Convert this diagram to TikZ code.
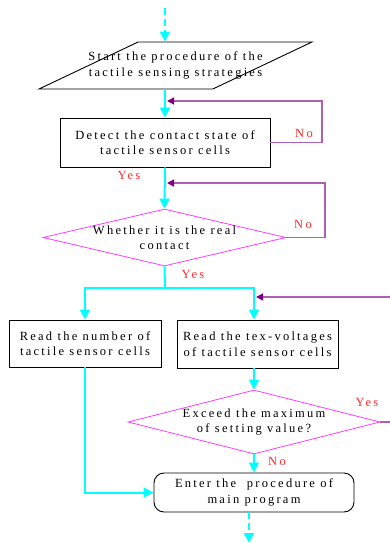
\documentclass[tikz,border=0pt]{standalone}
\usepackage{fontspec}
\setmainfont{Liberation Serif}[LetterSpace=18]
\usetikzlibrary{shapes.geometric,arrows.meta,positioning}

\definecolor{flowcyan}{RGB}{0,255,255}
\definecolor{looppurple}{RGB}{175,95,180}
\definecolor{tippurple}{RGB}{125,0,125}
\definecolor{askmagenta}{RGB}{255,60,255}
\definecolor{answerred}{RGB}{255,40,40}

\tikzset{
  every node/.style={font=\fontsize{12.5}{15.5}\selectfont},
  box/.style={draw,line width=0.9pt,align=center,inner sep=0pt},
  decision/.style={diamond,draw=askmagenta,line width=0.8pt,inner sep=1pt},
  flow/.style={draw=flowcyan,line width=2pt,-{Triangle[width=10pt,length=10pt,color=flowcyan]}},
  plain/.style={draw=flowcyan,line width=2pt},
  loopback/.style={draw=looppurple,line width=1.4pt,-{Triangle[width=7pt,length=7pt,color=tippurple]}},
  answer/.style={text=answerred,inner sep=0pt}
}

\begin{document}
\begin{tikzpicture}[x=1pt,y=-1pt]
    \clip (0,0) rectangle (390,543);

    % Main column of the flow
    \node[trapezium,draw,line width=0.9pt,trapezium left angle=37,trapezium right angle=143,
          trapezium stretches=true,minimum width=273pt,minimum height=47pt,inner sep=2pt,
          label={[align=center]center:Start the procedure of the\\tactile sensing strategies}]
          (start) at (175.5,65.5) {};
    \node[box,minimum width=210pt,minimum height=49pt] (detect) at (165,142.5)
          {Detect the contact state of\\tactile sensor cells};
    \node[decision,minimum width=243pt,minimum height=57pt,
          label={[align=center]center:Whether it is the real\\contact}]
          (real) at (164.5,237.5) {};

    % Two branches
    \node[box,minimum width=152pt,minimum height=47pt] (count) at (85,343.5)
          {Read the number of\\tactile sensor cells};
    \node[box,minimum width=161pt,minimum height=48pt] (volt) at (257.5,344)
          {Read the tex-voltages\\of tactile sensor cells};
    \node[decision,minimum width=252pt,minimum height=64pt,
          label={[align=center]center:Exceed the maximum\\of setting value?}]
          (exceed) at (254,422) {};
    \node[box,rounded corners=10pt,minimum width=200pt,minimum height=39pt] (main) at (254,492.5)
          {Enter the\ \ procedure of\\main program};

    % Answers
    \node[answer] (no1) at (304,133) {No};
    \node[answer] (yes1) at (129,175) {Yes};
    \node[answer] (no2) at (303,224) {No};
    \node[answer] (yes2) at (193,274) {Yes};
    \node[answer] (yes3) at (367,402) {Yes};
    \node[answer] (no3) at (277,461) {No};

    % Helper points
    \coordinate (in) at (165,8);
    \coordinate (out) at (249,543);
    \coordinate (split) at (165,288);
    \coordinate (r1) at (322,101);
    \coordinate (j1) at (167,101);
    \coordinate (r2) at (325,183);
    \coordinate (j2) at (167,183);
    \coordinate (r3) at (396,297);
    \coordinate (j3) at (256,297);

    % Connectors
    \draw[flow,dash pattern=on 7pt off 4pt] (in) -- (in |- start.north);
    \draw[flow] (start.south -| detect) -- (detect.north);
    \draw[flow] (detect.south) -- (real.north);
    \draw[plain] (real.south) -- (split);
    \draw[flow] (split) -| (count.north);
    \draw[flow] (split) -| (volt.north -| exceed);
    \draw[flow] (volt.south -| exceed) -- (exceed.north);
    \draw[flow] (exceed.south) -- (main.north);
    \draw[flow] (count.south) |- (main.west);
    \draw[flow,dash pattern=on 7pt off 4pt] (main.south -| out) -- (out);

    \draw[loopback] (detect.east) -| (r1) -- (j1);
    \draw[loopback] (real.east) -| (r2) -- (j2);
    \draw[loopback] (exceed.east) -| (r3) -- (j3);
\end{tikzpicture}
\end{document}
